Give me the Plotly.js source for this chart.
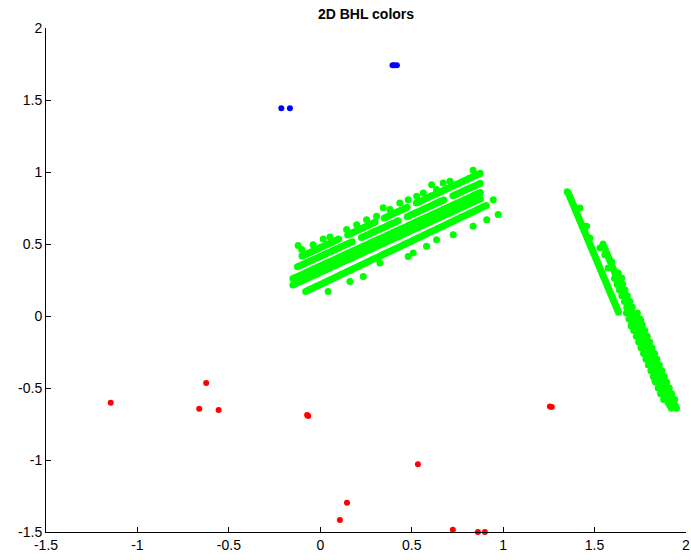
<!DOCTYPE html>
<html>
<head>
<meta charset="utf-8">
<script src="https://cdn.plot.ly/plotly-3.0.1.min.js"></script>
<style>html,body{margin:0;padding:0;background:#fff;}#chart{width:691px;height:560px;}</style>
</head>
<body>
<div id="chart"></div>
<script>
// ---- Data ----
const tickVals = [-1.5, -1, -0.5, 0, 0.5, 1, 1.5, 2];
const tickText = ['-1.5', '-1', '-0.5', '0', '0.5', '1', '1.5', '2'];

// Green, left cluster: top stripe
const greenS1X = [-0.1,-0.0875,-0.075,-0.0625,-0.05,-0.0375,-0.025,-0.0125,0,0.0125,0.025,0.0375,0.05,0.0625,0.075,0.0875,0.1,
  0.15,0.1625,0.175,0.1875,0.2,0.2125,0.225,0.2375,0.25,0.2625,0.275,0.2875,0.3,
  0.35,0.3625,0.375,0.3875,0.4,0.4125,0.425,0.4375,0.45,0.4625,0.475,
  0.525,0.5375,0.55,0.5625,0.575,0.5875,0.6,0.6125,0.625,0.6375,0.65,0.6625,0.675,0.6875,0.7,0.7125,0.725,0.7375,0.75,0.7625,0.775,0.7875,0.8,0.8125,0.825,0.8375,0.85,0.8625,0.875];
const greenS1Y = [0.416,0.423,0.430,0.438,0.445,0.452,0.460,0.467,0.475,0.482,0.489,0.497,0.504,0.511,0.519,0.526,0.534,
  0.563,0.570,0.578,0.585,0.593,0.600,0.607,0.615,0.622,0.629,0.637,0.644,0.652,
  0.681,0.688,0.696,0.703,0.711,0.718,0.725,0.733,0.740,0.747,0.755,
  0.784,0.792,0.799,0.806,0.814,0.821,0.829,0.836,0.843,0.851,0.858,0.865,0.873,0.880,0.888,0.895,0.902,0.910,0.917,0.924,0.932,0.939,0.947,0.954,0.961,0.969,0.976,0.983,0.991];
// second stripe
const greenS2X = [-0.125,-0.1125,-0.1,-0.0875,-0.075,-0.0625,-0.05,-0.0375,-0.025,-0.0125,0,0.0125,0.025,0.0375,0.05,0.0625,0.075,0.0875,0.1,0.1125,0.125,0.1375,0.15,0.1625,0.175,
  0.225,0.2375,0.25,0.2625,0.275,0.2875,0.3,0.3125,0.325,0.3375,0.35,0.3625,0.375,0.3875,0.4,0.4125,0.425,
  0.475,0.4875,0.5,0.5125,0.525,0.5375,0.55,0.5625,0.575,0.5875,0.6,0.6125,0.625,0.6375,0.65,0.6625,0.675,
  0.725,0.7375,0.75,0.7625,0.775,0.7875,0.8,0.8125,0.825,0.8375,0.85,0.8625,0.875];
const greenS2Y = [0.342,0.349,0.356,0.363,0.371,0.378,0.385,0.392,0.400,0.407,0.414,0.421,0.429,0.436,0.443,0.450,0.458,0.465,0.472,0.479,0.487,0.494,0.501,0.508,0.516,
  0.545,0.552,0.559,0.566,0.574,0.581,0.588,0.595,0.603,0.610,0.617,0.624,0.632,0.639,0.646,0.653,0.661,
  0.690,0.697,0.704,0.711,0.719,0.726,0.733,0.740,0.748,0.755,0.762,0.769,0.777,0.784,0.791,0.798,0.806,
  0.835,0.842,0.849,0.856,0.864,0.871,0.878,0.885,0.893,0.900,0.907,0.914,0.922];
// thick third stripe (upper and lower rows share x)
const greenS3X = [-0.150,-0.1375,-0.125,-0.1125,-0.100,-0.0875,-0.075,-0.0625,-0.050,-0.0375,
  -0.025,-0.0125,0,0.0125,0.025,0.0375,0.05,0.0625,0.075,0.0875,
  0.1,0.1125,0.125,0.1375,0.15,0.1625,0.175,0.1875,0.2,0.2125,
  0.225,0.2375,0.25,0.2625,0.275,0.2875,0.3,0.3125,0.325,0.3375,
  0.35,0.3625,0.375,0.3875,0.4,0.4125,0.425,0.4375,0.45,0.4625,
  0.475,0.4875,0.5,0.5125,0.525,0.5375,0.55,0.5625,0.575,0.5875,
  0.6,0.6125,0.625,0.6375,0.65,0.6625,0.675,0.6875,0.7,0.7125,
  0.725,0.7375,0.75,0.7625,0.775,0.7875,0.8,0.8125,0.825,0.8375,
  0.85,0.8625,0.875];
const greenS3UpperY = [0.260,0.267,0.275,0.282,0.289,0.296,0.304,0.311,0.318,0.326,
  0.333,0.340,0.347,0.355,0.362,0.369,0.377,0.384,0.391,0.398,
  0.406,0.413,0.420,0.428,0.435,0.442,0.449,0.457,0.464,0.471,
  0.479,0.486,0.493,0.500,0.508,0.515,0.522,0.530,0.537,0.544,
  0.551,0.559,0.566,0.573,0.581,0.588,0.595,0.602,0.610,0.617,
  0.624,0.632,0.639,0.646,0.654,0.661,0.668,0.675,0.683,0.690,
  0.697,0.705,0.712,0.719,0.726,0.734,0.741,0.748,0.756,0.763,
  0.770,0.777,0.785,0.792,0.799,0.807,0.814,0.821,0.828,0.836,
  0.843,0.850,0.858];
const greenS3LowerY = [0.216,0.223,0.231,0.238,0.245,0.252,0.260,0.267,0.274,0.282,
  0.289,0.296,0.303,0.311,0.318,0.325,0.333,0.340,0.347,0.354,
  0.362,0.369,0.376,0.384,0.391,0.398,0.405,0.413,0.420,0.427,
  0.435,0.442,0.449,0.456,0.464,0.471,0.478,0.486,0.493,0.500,
  0.507,0.515,0.522,0.529,0.537,0.544,0.551,0.558,0.566,0.573,
  0.580,0.588,0.595,0.602,0.610,0.617,0.624,0.631,0.639,0.646,
  0.653,0.661,0.668,0.675,0.682,0.690,0.697,0.704,0.712,0.719,
  0.726,0.733,0.741,0.748,0.755,0.763,0.770,0.777,0.784,0.792,
  0.799,0.806,0.814];
// bottom stripe
const greenS4X = [-0.08,-0.0675,-0.055,-0.0425,-0.03,-0.0175,-0.005,0.0075,0.02,0.0325,
  0.045,0.0575,0.07,0.0825,0.095,0.1075,0.12,0.1325,0.145,0.1575,
  0.17,0.1825,0.195,0.2075,0.22,0.2325,0.245,0.2575,0.27,0.2825,
  0.295,0.3075,0.32,0.3325,0.345,0.3575,0.37,0.3825,0.395,0.4075,
  0.42,0.4325,0.445,0.4575,0.47,0.4825,0.495,0.5075,0.52,0.5325,
  0.545,0.5575,0.57,0.5825,0.595,0.6075,0.62,0.6325,0.645,0.6575,
  0.67,0.6825,0.695,0.7075,0.72,0.7325,0.745,0.7575,0.77,0.7825,
  0.795,0.8075,0.82,0.8325,0.845,0.8575,0.87,0.8825,0.895,0.9075];
const greenS4Y = [0.170,0.178,0.186,0.193,0.201,0.208,0.216,0.223,0.231,0.238,
  0.246,0.254,0.261,0.269,0.276,0.284,0.291,0.299,0.307,0.314,
  0.322,0.329,0.337,0.344,0.352,0.360,0.367,0.375,0.382,0.390,
  0.397,0.405,0.412,0.420,0.428,0.435,0.443,0.450,0.458,0.465,
  0.473,0.480,0.488,0.496,0.503,0.511,0.518,0.526,0.533,0.541,
  0.549,0.556,0.564,0.571,0.579,0.586,0.594,0.601,0.609,0.617,
  0.624,0.632,0.639,0.647,0.654,0.662,0.670,0.677,0.685,0.692,
  0.700,0.707,0.715,0.722,0.730,0.738,0.745,0.753,0.760,0.768];
// scattered points around the left cluster
const greenScatterX = [-0.121,-0.102,-0.039,0.016,0.053,0.144,0.199,0.253,0.308,0.344,0.381,0.435,0.481,0.527,0.563,0.609,0.636,0.672,0.709,0.836,0.946,0.973,0.910,0.836,0.727,0.636,0.581,0.508,0.481,0.326,0.235,0.162,0.043];
const greenScatterY = [0.489,0.461,0.495,0.535,0.549,0.600,0.634,0.669,0.692,0.751,0.739,0.785,0.808,0.831,0.855,0.912,0.878,0.924,0.935,1.012,0.808,0.704,0.669,0.623,0.565,0.530,0.484,0.438,0.414,0.368,0.275,0.240,0.171];

// Green, right cluster: thin stripe (plus bumps on its right side)
const greenTX = [1.356,1.361,1.366,1.371,1.376,1.381,1.386,1.391,1.396,1.401,1.406,1.411,1.416,1.421,1.426,1.431,1.436,1.441,1.446,1.451,
  1.456,1.461,1.466,1.471,1.476,1.481,1.486,1.491,1.496,1.501,1.506,1.511,1.516,1.521,1.526,1.531,1.536,1.541,1.546,1.551,
  1.556,1.561,1.566,1.571,1.576,1.581,1.586,1.591,1.596,1.601,1.606,1.611,1.616,1.621,1.626,1.631,
  1.350,1.420,1.456,1.474];
const greenTY = [0.855,0.840,0.825,0.810,0.795,0.780,0.765,0.749,0.734,0.719,0.704,0.689,0.674,0.659,0.644,0.629,0.614,0.599,0.584,0.569,
  0.554,0.538,0.523,0.508,0.493,0.478,0.463,0.448,0.433,0.418,0.403,0.388,0.373,0.358,0.343,0.327,0.312,0.297,0.282,0.267,
  0.252,0.237,0.222,0.207,0.192,0.177,0.162,0.147,0.132,0.116,0.101,0.086,0.071,0.056,0.041,0.026,
  0.862,0.750,0.623,0.542];
// right cluster, broad band: upper narrow part (with bumps)
const greenBTopX = [1.546,1.552,1.559,1.565,1.572,1.579,1.585,1.592,1.598,1.605,1.611,1.618,1.529,1.556,1.593,1.574,1.629,1.648];
const greenBTopY = [0.50,0.48,0.46,0.44,0.42,0.40,0.38,0.36,0.34,0.32,0.30,0.28,0.473,0.426,0.379,0.334,0.299,0.264];
// middle part, two columns and center row
const greenBMidX = [1.609,1.639,1.623,1.653,1.636,1.666,1.649,1.679,1.663,1.693,1.676,1.706,
  1.631,1.644,1.658,1.671,1.684,1.698];
const greenBMidY = [0.26,0.26,0.22,0.22,0.18,0.18,0.14,0.14,0.10,0.10,0.06,0.06,
  0.24,0.20,0.16,0.12,0.08,0.04];
// wide part: rows with three columns
const greenBWideY = [0.02,-0.02,-0.06,-0.10,-0.14,-0.18,-0.22,-0.26,-0.30,-0.34,-0.38,-0.42,-0.46,-0.50,-0.54,-0.58];
const greenBWideLeftX = [1.674,1.688,1.701,1.714,1.728,1.741,1.754,1.768,1.781,1.794,1.808,1.821,1.834,1.848,1.861,1.878];
const greenBWideMidX = [1.704,1.718,1.731,1.744,1.758,1.771,1.784,1.798,1.811,1.824,1.838,1.851,1.864,1.878,1.891,1.908];
const greenBWideRightX = [1.734,1.748,1.761,1.774,1.788,1.801,1.814,1.828,1.841,1.854,1.868,1.881,1.894,1.908,1.921,1.938];
// wide part: rows with two columns in between
const greenBInterY = [0.00,-0.04,-0.08,-0.12,-0.16,-0.20,-0.24,-0.28,-0.32,-0.36,-0.40,-0.44,-0.48,-0.52,-0.56];
const greenBInterLeftX = [1.696,1.709,1.723,1.736,1.749,1.763,1.776,1.789,1.803,1.816,1.829,1.843,1.856,1.869,1.885];
const greenBInterRightX = [1.726,1.739,1.753,1.766,1.779,1.793,1.806,1.819,1.833,1.846,1.859,1.873,1.886,1.899,1.915];
// lower end of the band and a few edge bumps
const greenBEndX = [1.902,1.932,1.911,1.941,1.920,1.948,1.700,1.792,1.862,1.905,1.752,1.830];
const greenBEndY = [-0.60,-0.60,-0.62,-0.62,-0.64,-0.64,-0.07,-0.21,-0.40,-0.50,-0.03,-0.45];

// Red points
const redX = [-1.146,-0.624,-0.662,-0.556,-0.072,-0.066,0.534,1.256,1.266,0.146,0.107,0.725,0.862,0.900];
const redY = [-0.602,-0.466,-0.644,-0.653,-0.688,-0.694,-1.029,-0.628,-0.632,-1.297,-1.416,-1.485,-1.500,-1.500];

// Blue points
const blueX = [-0.213,-0.166,0.395,0.405,0.419];
const blueY = [1.443,1.443,1.741,1.741,1.741];

// ---- Build traces ----
const greenX = [].concat(greenS1X, greenS2X, greenS3X, greenS3X, greenS4X, greenScatterX, greenTX,
  greenBTopX, greenBMidX, greenBWideLeftX, greenBWideMidX, greenBWideRightX, greenBInterLeftX, greenBInterRightX, greenBEndX);
const greenY = [].concat(greenS1Y, greenS2Y, greenS3UpperY, greenS3LowerY, greenS4Y, greenScatterY, greenTY,
  greenBTopY, greenBMidY, greenBWideY, greenBWideY, greenBWideY, greenBInterY, greenBInterY, greenBEndY);

const mk = (x, y, color, size) => ({
  x: x, y: y, type: 'scatter', mode: 'markers', cliponaxis: false,
  marker: {color: color, size: size, line: {width: 0}},
  hoverinfo: 'x+y', showlegend: false
});

const data = [mk(greenX, greenY, '#00ff00', 7), mk(redX, redY, '#ff0000', 6), mk(blueX, blueY, '#0000ff', 6)];

const axisCommon = {
  tickmode: 'array', tickvals: tickVals, ticktext: tickText,
  ticks: 'inside', ticklen: 5, tickwidth: 1, tickcolor: '#000',
  showline: true, linecolor: '#000', linewidth: 1,
  showgrid: false, zeroline: false,
  tickfont: {family: 'Liberation Sans, Arial, sans-serif', size: 14, color: '#000'}
};

const layout = {
  width: 691, height: 560,
  margin: {l: 46, r: 5, t: 28, b: 28, pad: 0},
  paper_bgcolor: '#fff', plot_bgcolor: '#fff',
  title: {text: '<b>2D BHL colors</b>', x: 0.5, xref: 'paper', y: 0.975, yref: 'container', yanchor: 'middle',
    font: {family: 'Liberation Sans, Arial, sans-serif', size: 14, color: '#000'}},
  xaxis: Object.assign({range: [-1.5, 2]}, axisCommon),
  yaxis: Object.assign({range: [-1.5, 2]}, axisCommon),
  showlegend: false
};

Plotly.newPlot('chart', data, layout, {displayModeBar: false, staticPlot: true});
</script>
</body>
</html>
